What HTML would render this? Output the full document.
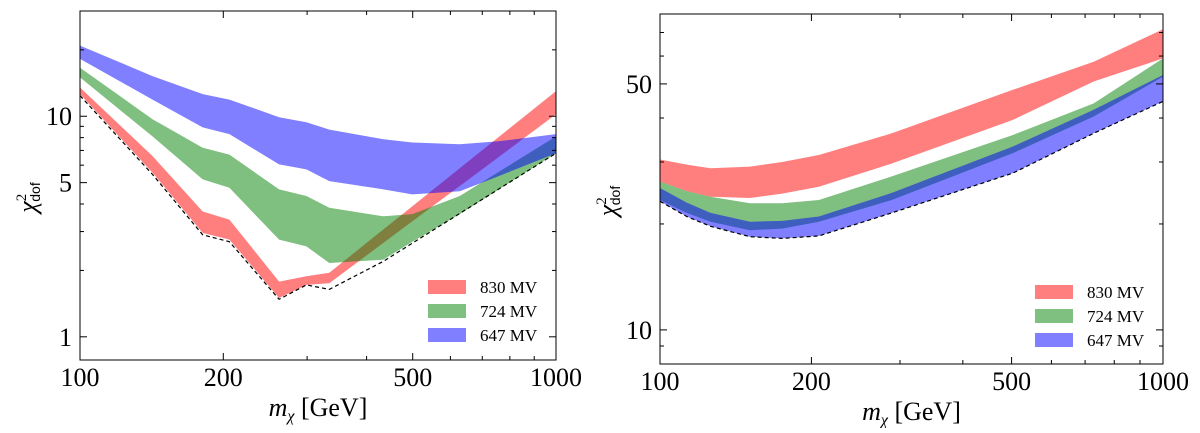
<!DOCTYPE html>
<html><head><meta charset="utf-8"><style>
body{margin:0;background:#fff;width:1200px;height:428px;overflow:hidden}
svg text{font-family:"Liberation Serif",serif;fill:#000}
</style></head><body>
<svg id="svg" width="1200" height="428"></svg>
<script>
// ----- Left panel data -----
const leftRedX=[100,142,181,206,262,299,334,1000];
const leftRedUpper=[13.5,6.6,3.7,3.4,1.78,1.88,1.95,13.0];
const leftRedLower=[12.6,5.55,2.96,2.76,1.5,1.72,1.75,10.2];
const leftGreenX=[100,142,181,206,262,299,334,434,499,628,1000];
const leftGreenUpper=[16.6,9.7,7.2,6.7,4.66,4.35,3.85,3.52,3.6,4.35,8.1];
const leftGreenLower=[15.0,8.1,5.17,4.74,2.76,2.57,2.16,2.24,2.7,3.6,6.8];
const leftBlueX=[100,142,181,206,262,299,334,434,499,628,757,1000];
const leftBlueUpper=[20.9,15.2,12.6,11.9,9.9,9.4,8.7,7.86,7.6,7.46,7.7,8.3];
const leftBlueLower=[18.2,11.9,8.9,8.3,6.05,5.74,5.08,4.66,4.42,4.57,5.35,6.8];
const leftDashX=[100,142,181,206,262,299,334,434,1000];
const leftDashY=[12.4,5.45,2.9,2.7,1.48,1.72,1.64,2.2,6.8];
// ----- Right panel data -----
const rightX=[100,113,126,151,175,207,289,503,728,1000];
const rightRedUpper=[30.5,29.5,28.8,29.1,30.0,31.4,36.2,48.1,57.8,71.5];
const rightRedLower=[26.4,24.8,23.9,23.7,24.4,25.5,29.7,39.5,50.8,59.1];
const rightGreenUpper=[26.4,24.8,23.9,22.9,22.9,23.4,27.3,35.8,44.0,59.1];
const rightGreenLower=[23.4,21.5,20.3,19.2,19.4,20.3,23.4,31.8,40.4,52.4];
const rightBlueUpper=[25.3,23.0,21.5,20.3,20.4,21.0,24.5,33.2,42.2,53.0];
const rightBlueLower=[23.2,21.0,19.7,18.4,18.2,18.5,21.5,27.9,36.2,44.6];
// ticks
const xTickLabels=[100,200,500,1000];
const xMinor=[300,400,600,700,800,900];
const leftYLabels=[1,5,10];
const leftYMinor=[2,3,4,6,7,8,9,20];
const rightYLabels=[10,50];
const rightYMinor=[9,20,30,40,60,70];
const legendLabels=["830 MV","724 MV","647 MV"];
const colors=["#ff0000","#008000","#0000ff"];

const NS="http://www.w3.org/2000/svg";
const svg=document.getElementById('svg');
function mk(tag,attrs,parent){const e=document.createElementNS(NS,tag);for(const k in attrs)e.setAttribute(k,attrs[k]);(parent||svg).appendChild(e);return e;}

function panel(cfg){
  const g=mk('g',{});
  
  
  const sx=v=>cfg.L+(Math.log10(v)-2)*(cfg.R-cfg.L);
  const lyMin=Math.log10(cfg.yMin),lyMax=Math.log10(cfg.yMax);
  const sy=v=>cfg.B-(Math.log10(v)-lyMin)/(lyMax-lyMin)*(cfg.B-cfg.T);
  mk('defs',{},g).innerHTML=`<clipPath id="clip-${cfg.name}"><rect x="${cfg.L}" y="${cfg.T}" width="${cfg.R-cfg.L}" height="${cfg.B-cfg.T}"/></clipPath>`;
  const pg=mk('g',{'clip-path':`url(#clip-${cfg.name})`},g);
  cfg.bands.forEach((b,i)=>{
    let d='';
    b.x.forEach((x,j)=>{d+=(j?'L':'M')+sx(x).toFixed(1)+','+sy(b.up[j]).toFixed(1);});
    for(let j=b.x.length-1;j>=0;j--)d+='L'+sx(b.x[j]).toFixed(1)+','+sy(b.lo[j]).toFixed(1);
    const p=mk('path',{d:d+'Z',fill:colors[i],'fill-opacity':0.5,stroke:'none'},pg);
    
    
  });
  let dd='';cfg.dash.x.forEach((x,j)=>{dd+=(j?'L':'M')+sx(x).toFixed(1)+','+sy(cfg.dash.y[j]).toFixed(1);});
  const dl=mk('path',{d:dd,fill:'none',stroke:'#000','stroke-width':1.2,'stroke-dasharray':'4,3'},pg);
  
  
  const fr=mk('rect',{x:cfg.L,y:cfg.T,width:cfg.R-cfg.L,height:cfg.B-cfg.T,fill:'none',stroke:'#000','stroke-width':1},g);
  
  
  xTickLabels.forEach(v=>{const x=sx(v);
    mk('line',{x1:x,x2:x,y1:cfg.B,y2:cfg.B-7,stroke:'#000'},g);mk('line',{x1:x,x2:x,y1:cfg.T,y2:cfg.T+7,stroke:'#000'},g);
    const t=mk('text',{x:x,y:cfg.B+26,'text-anchor':'middle','font-size':26},g);t.textContent=v;
    
    
  });
  xMinor.forEach(v=>{const x=sx(v);mk('line',{x1:x,x2:x,y1:cfg.B,y2:cfg.B-4,stroke:'#000'},g);mk('line',{x1:x,x2:x,y1:cfg.T,y2:cfg.T+4,stroke:'#000'},g);});
  cfg.yLabels.forEach(v=>{const y=sy(v);
    mk('line',{x1:cfg.L,x2:cfg.L+7,y1:y,y2:y,stroke:'#000'},g);mk('line',{x1:cfg.R,x2:cfg.R-7,y1:y,y2:y,stroke:'#000'},g);
    const t=mk('text',{x:cfg.L-8,y:y+9,'text-anchor':'end','font-size':26},g);t.textContent=v;
    
    
  });
  cfg.yMinor.forEach(v=>{const y=sy(v);mk('line',{x1:cfg.L,x2:cfg.L+4,y1:y,y2:y,stroke:'#000'},g);mk('line',{x1:cfg.R,x2:cfg.R-4,y1:y,y2:y,stroke:'#000'},g);});
  const xl=mk('text',{x:(cfg.L+cfg.R)/2,y:cfg.B+56,'text-anchor':'middle','font-size':26},g);
  xl.innerHTML='<tspan font-style="italic">m</tspan><tspan font-size="16" dy="5" font-style="italic">χ</tspan><tspan dy="-5"> [GeV]</tspan>';
  
  
  const yl=mk('text',{transform:`translate(${cfg.L-44},${(cfg.T+cfg.B)/2+12}) rotate(-90)`,'text-anchor':'middle','font-size':26},g);
  yl.innerHTML='<tspan font-style="italic">χ</tspan><tspan font-size="15" dy="-10">2</tspan><tspan font-size="14" dx="-8" dy="14" font-family="Liberation Sans">dof</tspan>';
  
  
  legendLabels.forEach((lab,i)=>{const y=cfg.legY+i*24;
    const r=mk('rect',{x:cfg.legX,y:y-7,width:38,height:14,fill:colors[i],'fill-opacity':0.5},g);
    
    
    const t=mk('text',{x:cfg.legX+52,y:y+6,'font-size':17},g);t.textContent=lab;
    
    
  });
}
panel({name:'left-panel',L:80,R:556,T:11,B:360,yMin:0.785,yMax:30,yLabels:leftYLabels,yMinor:leftYMinor,
  bands:[{x:leftRedX,up:leftRedUpper,lo:leftRedLower},{x:leftGreenX,up:leftGreenUpper,lo:leftGreenLower},{x:leftBlueX,up:leftBlueUpper,lo:leftBlueLower}],
  dash:{x:leftDashX,y:leftDashY},legX:428,legY:287});
panel({name:'right-panel',L:660,R:1163,T:14,B:364,yMin:8.0,yMax:79,yLabels:rightYLabels,yMinor:rightYMinor,
  bands:[{x:rightX,up:rightRedUpper,lo:rightRedLower},{x:rightX,up:rightGreenUpper,lo:rightGreenLower},{x:rightX,up:rightBlueUpper,lo:rightBlueLower}],
  dash:{x:rightX,y:rightBlueLower},legX:1035,legY:292});
</script>
</body></html>
